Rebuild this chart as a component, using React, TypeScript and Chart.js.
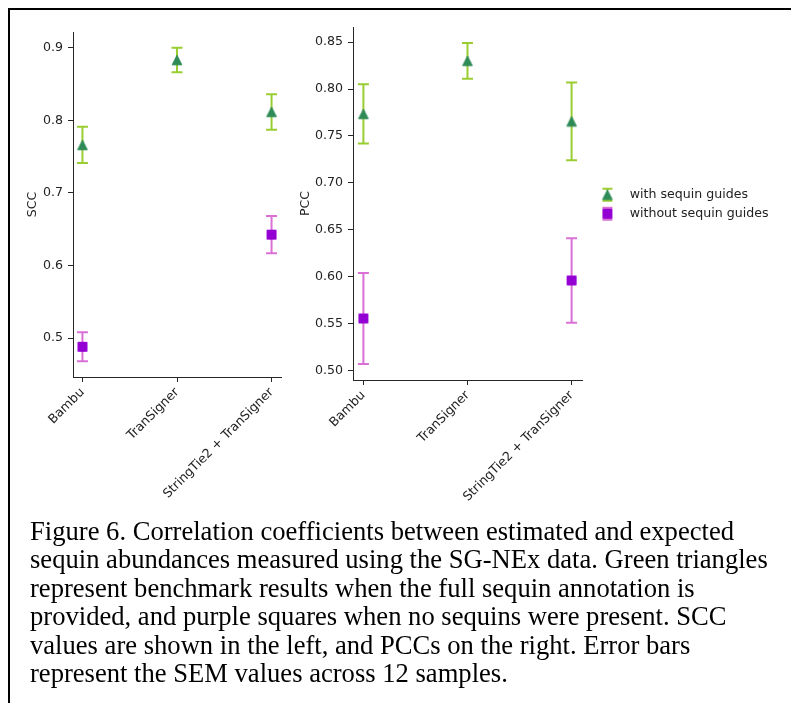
import React, { useEffect, useRef } from "react";
import { Chart, registerables } from "chart.js";

Chart.register(...registerables);

// ---------- data ----------
const categories = ["Bambu", "TranSigner", "StringTie2 + TranSigner"];
const seriesLabels = ["with sequin guides", "without sequin guides"];

const sccWithMean = [0.766, 0.883, 0.8115];
const sccWithSem = [0.025, 0.017, 0.0245];
const sccWithoutMean: (number | null)[] = [0.488, null, 0.6425];
const sccWithoutSem: (number | null)[] = [0.02, null, 0.0255];

const pccWithMean = [0.7735, 0.83, 0.7655];
const pccWithSem = [0.0315, 0.019, 0.0415];
const pccWithoutMean: (number | null)[] = [0.5555, null, 0.596];
const pccWithoutSem: (number | null)[] = [0.0485, null, 0.045];

const sccTicks = [0.5, 0.6, 0.7, 0.8, 0.9];
const sccTickLabels = ["0.5", "0.6", "0.7", "0.8", "0.9"];
const pccTicks = [0.5, 0.55, 0.6, 0.65, 0.7, 0.75, 0.8, 0.85];
const pccTickLabels = ["0.50", "0.55", "0.60", "0.65", "0.70", "0.75", "0.80", "0.85"];

const sccRange = [0.4464, 0.9216];
const pccRange = [0.4899, 0.8661];

const captionLines = [
  "Figure 6. Correlation coefficients between estimated and expected",
  "sequin abundances measured using the SG-NEx data. Green triangles",
  "represent benchmark results when the full sequin annotation is",
  "provided, and purple squares when no sequins were present. SCC",
  "values are shown in the left, and PCCs on the right. Error bars",
  "represent the SEM values across 12 samples.",
];

// ---------- styles ----------
const FONT = "'DejaVu Sans', sans-serif";
const FS = 12.6;
const AXIS_COLOR = "#262626";
const TEXT_COLOR = "#222222";
const GREEN_MARK = "#2e8b57";
const GREEN_ERR = "#9acd32";
const PURPLE_MARK = "#9400d3";
const PURPLE_ERR = "#da70d6";
const CAP = 5.5;

function makeMarker(kind: "tri" | "sq", withErr: boolean): HTMLCanvasElement {
  const c = document.createElement("canvas");
  c.width = 20;
  c.height = 20;
  const ctx = c.getContext("2d")!;
  const cx = 10;
  const cy = 10;
  if (withErr) {
    ctx.lineWidth = 2;
    ctx.strokeStyle = kind === "tri" ? GREEN_ERR : PURPLE_ERR;
    ctx.beginPath();
    ctx.moveTo(cx, cy - 6);
    ctx.lineTo(cx, cy + 6);
    ctx.moveTo(cx - 5, cy - 6);
    ctx.lineTo(cx + 5, cy - 6);
    ctx.moveTo(cx - 5, cy + 6);
    ctx.lineTo(cx + 5, cy + 6);
    ctx.stroke();
  }
  ctx.lineWidth = 1;
  if (kind === "tri") {
    ctx.fillStyle = GREEN_MARK;
    ctx.strokeStyle = GREEN_MARK;
    ctx.beginPath();
    ctx.moveTo(cx, cy - 4.8);
    ctx.lineTo(cx + 4.8, cy + 4.8);
    ctx.lineTo(cx - 4.8, cy + 4.8);
    ctx.closePath();
    ctx.fill();
    ctx.stroke();
  } else {
    ctx.fillStyle = PURPLE_MARK;
    ctx.strokeStyle = PURPLE_MARK;
    ctx.beginPath();
    ctx.rect(cx - 4.5, cy - 4.5, 9, 9);
    ctx.fill();
    ctx.stroke();
  }
  return c;
}

const errorBarPlugin = {
  id: "errorBars",
  beforeDatasetsDraw(chart: any) {
    const { ctx } = chart;
    const xs = chart.scales.x;
    const ys = chart.scales.y;
    chart.data.datasets.forEach((ds: any) => {
      const means: (number | null)[] = ds.errMeans;
      const sems: (number | null)[] = ds.errSems;
      ctx.save();
      ctx.strokeStyle = ds.errColor;
      ctx.lineWidth = 2;
      means.forEach((m, i) => {
        const s = sems[i];
        if (m == null || s == null) return;
        const x = xs.getPixelForValue(i);
        const yt = ys.getPixelForValue(m + s);
        const yb = ys.getPixelForValue(m - s);
        ctx.beginPath();
        ctx.moveTo(x, yt);
        ctx.lineTo(x, yb);
        ctx.moveTo(x - CAP, yt);
        ctx.lineTo(x + CAP, yt);
        ctx.moveTo(x - CAP, yb);
        ctx.lineTo(x + CAP, yb);
        ctx.stroke();
      });
      ctx.restore();
    });
  },
};

const legendPlacer = {
  id: "legendPlacer",
  afterLayout(chart: any) {
    const pos = chart.options.plugins.legendPlacer;
    if (chart.legend && pos && pos.enabled) {
      chart.legend.left = pos.left;
      chart.legend.top = pos.top;
      chart.legend.bottom = pos.top + 200;
      chart.legend.right = pos.left + 200;
    }
  },
};

type Panel = {
  withMean: (number | null)[];
  withSem: (number | null)[];
  withoutMean: (number | null)[];
  withoutSem: (number | null)[];
  range: number[];
  ticks: number[];
  tickLabels: string[];
  title: string;
  titlePad: number;
  padding: { left: number; right: number; top: number; bottom: number };
  yAxisW: number;
  xAxisH: number;
  legend: boolean;
  legendLeft: number;
  legendTop: number;
};

function toPoints(arr: (number | null)[]) {
  const out: { x: number; y: number }[] = [];
  arr.forEach((v, i) => {
    if (v != null) out.push({ x: i, y: v });
  });
  return out;
}

function buildConfig(p: Panel, m: any): any {
  return {
    type: "scatter",
    data: {
      datasets: [
        {
          label: seriesLabels[0],
          data: toPoints(p.withMean),
          errMeans: p.withMean,
          errSems: p.withSem,
          errColor: GREEN_ERR,
          pointStyle: m.tri,
          pointRadius: 5,
          backgroundColor: GREEN_MARK,
          borderColor: GREEN_MARK,
        },
        {
          label: seriesLabels[1],
          data: toPoints(p.withoutMean),
          errMeans: p.withoutMean,
          errSems: p.withoutSem,
          errColor: PURPLE_ERR,
          pointStyle: m.sq,
          pointRadius: 5,
          backgroundColor: PURPLE_MARK,
          borderColor: PURPLE_MARK,
        },
      ],
    },
    options: {
      responsive: false,
      animation: false,
      events: [],
      layout: { padding: p.padding },
      scales: {
        x: {
          type: "linear",
          bounds: "data",
          min: -0.1,
          max: categories.length - 1 + 0.1,
          afterBuildTicks: (axis: any) => {
            axis.ticks = categories.map((_, i) => ({ value: i }));
          },
          afterFit: (axis: any) => {
            axis.height = p.xAxisH;
          },
          ticks: {
            autoSkip: false,
            maxRotation: 45,
            minRotation: 45,
            padding: 3,
            color: TEXT_COLOR,
            font: { family: FONT, size: FS },
            callback: (v: number) => categories[Math.round(v)],
          },
          grid: {
            display: true,
            drawOnChartArea: false,
            drawTicks: true,
            tickLength: 5,
            color: AXIS_COLOR,
          },
          border: { display: true, color: AXIS_COLOR, width: 1 },
        },
        y: {
          type: "linear",
          bounds: "data",
          min: p.range[0],
          max: p.range[1],
          afterBuildTicks: (axis: any) => {
            axis.ticks = p.ticks.map((v) => ({ value: v }));
          },
          afterFit: (axis: any) => {
            axis.width = p.yAxisW;
          },
          ticks: {
            padding: 5,
            color: TEXT_COLOR,
            font: { family: FONT, size: FS },
            callback: (_v: number, i: number) => p.tickLabels[i],
          },
          grid: {
            display: true,
            drawOnChartArea: false,
            drawTicks: true,
            tickLength: 5,
            color: AXIS_COLOR,
          },
          border: { display: true, color: AXIS_COLOR, width: 1 },
          title: {
            display: true,
            text: p.title,
            color: TEXT_COLOR,
            font: { family: FONT, size: FS },
            padding: { top: p.titlePad, bottom: 0 },
          },
        },
      },
      plugins: {
        tooltip: { enabled: false },
        legendPlacer: { enabled: p.legend, left: p.legendLeft, top: p.legendTop },
        legend: {
          display: p.legend,
          position: "chartArea",
          align: "start",
          labels: {
            usePointStyle: true,
            pointStyleWidth: 32,
            padding: 6.4,
            color: TEXT_COLOR,
            font: { family: FONT, size: FS },
            generateLabels: () =>
              seriesLabels.map((t, i) => ({
                text: t,
                pointStyle: i === 0 ? m.triLeg : m.sqLeg,
                fillStyle: i === 0 ? GREEN_MARK : PURPLE_MARK,
                strokeStyle: i === 0 ? GREEN_MARK : PURPLE_MARK,
                lineWidth: 0,
                hidden: false,
                datasetIndex: i,
                fontColor: TEXT_COLOR,
              })),
          },
        },
      },
    },
    plugins: [errorBarPlugin, legendPlacer],
  };
}

export default function App() {
  const ref1 = useRef<HTMLCanvasElement>(null);
  const ref2 = useRef<HTMLCanvasElement>(null);

  useEffect(() => {
    document.documentElement.style.overflow = "hidden";
    const m = {
      tri: makeMarker("tri", false),
      sq: makeMarker("sq", false),
      triLeg: makeMarker("tri", true),
      sqLeg: makeMarker("sq", true),
    };
    const c1 = new Chart(
      ref1.current!,
      buildConfig(
        {
          withMean: sccWithMean,
          withSem: sccWithSem,
          withoutMean: sccWithoutMean,
          withoutSem: sccWithoutSem,
          range: sccRange,
          ticks: sccTicks,
          tickLabels: sccTickLabels,
          title: "SCC",
          titlePad: 15.5,
          padding: { left: 0, right: 9, top: 22, bottom: 0 },
          yAxisW: 63,
          xAxisH: 153,
          legend: false,
          legendLeft: 0,
          legendTop: 0,
        },
        m
      )
    );
    const c2 = new Chart(
      ref2.current!,
      buildConfig(
        {
          withMean: pccWithMean,
          withSem: pccWithSem,
          withoutMean: pccWithoutMean,
          withoutSem: pccWithoutSem,
          range: pccRange,
          ticks: pccTicks,
          tickLabels: pccTickLabels,
          title: "PCC",
          titlePad: 8,
          padding: { left: 0, right: 209, top: 17, bottom: 0 },
          yAxisW: 63,
          xAxisH: 150,
          legend: true,
          legendLeft: 295,
          legendTop: 172,
        },
        m
      )
    );
    return () => {
      c1.destroy();
      c2.destroy();
    };
  }, []);

  return (
    <div
      style={{
        position: "fixed",
        left: 8,
        top: 8,
        width: 781,
        height: 693,
        borderTop: "2px solid #000",
        borderLeft: "2px solid #000",
        background: "#fff",
      }}
    >
      <canvas
        ref={ref1}
        width={280}
        height={520}
        style={{ position: "absolute", left: 0, top: 0, width: 280, height: 520 }}
      />
      <canvas
        ref={ref2}
        width={501}
        height={520}
        style={{ position: "absolute", left: 280, top: 0, width: 501, height: 520 }}
      />
      <div
        style={{
          position: "absolute",
          left: 20,
          top: 507,
          fontFamily: "'Liberation Serif', 'Times New Roman', serif",
          fontSize: 26.6,
          lineHeight: "28.4px",
          color: "#000",
          whiteSpace: "nowrap",
        }}
      >
        {captionLines.map((l, i) => (
          <div key={i}>{l}</div>
        ))}
      </div>
    </div>
  );
}
